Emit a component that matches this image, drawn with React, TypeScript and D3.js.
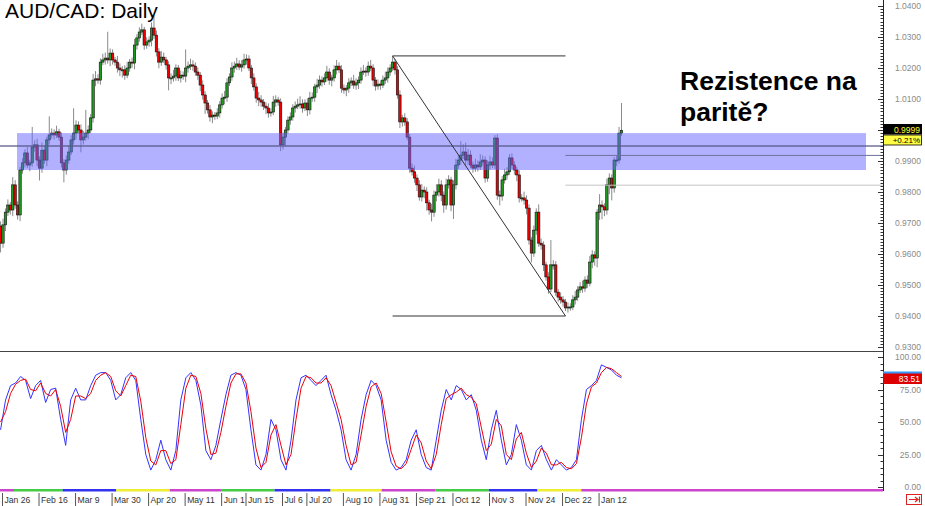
import React from 'react';
import * as d3 from 'd3';

// AUD/CAD daily candles (open = previous close)
const firstOpen = 0.969;
const closes = [
  0.9635, 0.9694, 0.9735, 0.9758, 0.9742, 0.9823, 0.9758, 0.9726, 0.9871, 0.9894,
  0.9926, 0.9887, 0.9894, 0.9945, 0.9952, 0.9903, 0.9877, 0.9935, 0.9903, 0.9968,
  0.9984, 0.999, 0.9984, 0.9994, 0.9977, 0.9894, 0.9871, 0.9903, 0.9929, 0.9968,
  0.999, 1.0016, 1.0, 0.9968, 0.9977, 0.999, 1.0, 1.0039, 1.0161, 1.0165,
  1.0161, 1.0219, 1.0226, 1.0232, 1.0226, 1.0248, 1.0226, 1.0219, 1.02, 1.0194,
  1.0194, 1.0177, 1.02, 1.0219, 1.0216, 1.0274, 1.0297, 1.0316, 1.0323, 1.0274,
  1.0284, 1.029, 1.0329, 1.0306, 1.0252, 1.0219, 1.0235, 1.0226, 1.021, 1.0168,
  1.0168, 1.0174, 1.02, 1.0168, 1.0177, 1.0174, 1.02, 1.0206, 1.021, 1.0206,
  1.0187, 1.0177, 1.0145, 1.0113, 1.0087, 1.0065, 1.0042, 1.0048, 1.0045, 1.0055,
  1.0081, 1.0103, 1.0106, 1.0152, 1.0171, 1.02, 1.0206, 1.0213, 1.0203, 1.021,
  1.0226, 1.0229, 1.02, 1.0168, 1.0139, 1.0103, 1.0097, 1.009, 1.0077, 1.0071,
  1.0055, 1.0058, 1.009, 1.0097, 1.009, 0.9952, 0.9977, 1.0, 1.0032, 1.0042,
  1.0071, 1.0077, 1.0081, 1.0084, 1.0071, 1.0087, 1.0065, 1.0103, 1.0106, 1.0139,
  1.0145, 1.0161, 1.0155, 1.0168, 1.0187, 1.0161, 1.0168, 1.0194, 1.0206, 1.0194,
  1.0135, 1.0129, 1.0135, 1.0152, 1.0158, 1.0145, 1.0152, 1.0161, 1.0187, 1.019,
  1.0187, 1.0206, 1.02, 1.0161, 1.0142, 1.0148, 1.0145, 1.0161, 1.0168, 1.0187,
  1.02, 1.0219, 1.0194, 1.0113, 1.0026, 1.0039, 1.0026, 0.9977, 0.9877, 0.9865,
  0.9845, 0.9823, 0.9784, 0.9806, 0.98, 0.9765, 0.9742, 0.9735, 0.979, 0.98,
  0.9823, 0.979, 0.9758, 0.9823, 0.9839, 0.9758, 0.9823, 0.9887, 0.9903, 0.9919,
  0.9929, 0.9903, 0.9919, 0.9887, 0.9877, 0.9887, 0.9881, 0.9897, 0.9903, 0.9845,
  0.9887, 0.9897, 0.9887, 0.9974, 0.979, 0.9787, 0.9839, 0.9855, 0.9865, 0.991,
  0.9887, 0.9871, 0.9855, 0.9781, 0.9781, 0.9774, 0.9748, 0.9645, 0.9603, 0.9677,
  0.9735, 0.9635, 0.9629, 0.9565, 0.9526, 0.9487, 0.9565, 0.9565, 0.9477, 0.9461,
  0.9452, 0.9445, 0.9426, 0.9429, 0.9429, 0.9452, 0.9461, 0.9484, 0.9494, 0.949,
  0.9516, 0.9506, 0.9574, 0.9597, 0.9587, 0.9735, 0.9758, 0.9752, 0.9742, 0.9823,
  0.9845, 0.9813, 0.9903, 0.9903, 0.999, 0.9999,
];
// wick lengths in pips above/below the body
const upperWick = [
  15, 20, 12, 18, 10, 25, 15, 12, 10, 15, 12, 20, 10, 65, 15, 20, 12, 25, 15, 10,
  60, 15, 12, 20, 10, 15, 12, 15, 20, 15, 80, 15, 12, 18, 20, 75, 15, 12, 20, 25,
  15, 12, 20, 18, 85, 15, 12, 10, 20, 15, 12, 15, 20, 10, 15, 20, 12, 15, 20, 10,
  15, 12, 18, 40, 15, 12, 20, 15, 10, 12, 15, 20, 12, 10, 15, 12, 60, 15, 20, 15,
  12, 15, 10, 15, 12, 10, 15, 12, 10, 15, 12, 15, 20, 15, 12, 18, 15, 20, 12, 15,
  20, 15, 12, 10, 15, 12, 20, 15, 10, 12, 15, 12, 20, 15, 10, 12, 15, 10, 12, 15,
  12, 15, 20, 25, 15, 12, 15, 20, 15, 10, 20, 15, 12, 15, 20, 12, 10, 15, 20, 12,
  15, 12, 10, 15, 12, 20, 15, 12, 15, 20, 12, 15, 20, 12, 10, 15, 12, 15, 20, 15,
  12, 20, 10, 12, 15, 10, 15, 12, 10, 15, 20, 12, 15, 20, 12, 15, 10, 20, 15, 25,
  20, 15, 12, 20, 15, 10, 15, 20, 15, 45, 25, 30, 20, 15, 12, 20, 15, 25, 15, 12,
  15, 20, 15, 10, 12, 15, 12, 20, 15, 12, 15, 12, 10, 15, 12, 20, 15, 12, 10, 15,
  12, 25, 15, 12, 10, 15, 80, 15, 12, 10, 15, 12, 10, 15, 12, 15, 20, 12, 15, 20,
  12, 15, 20, 15, 12, 10, 35, 15, 12, 20, 15, 12, 10, 15, 20, 88,
];
const lowerWick = [
  30, 15, 20, 12, 15, 20, 12, 15, 20, 12, 15, 10, 20, 12, 15, 20, 40, 15, 12, 20,
  15, 12, 15, 10, 12, 15, 40, 15, 12, 10, 15, 20, 12, 40, 15, 12, 20, 10, 15, 20,
  12, 15, 10, 15, 12, 20, 15, 12, 15, 20, 25, 15, 10, 12, 15, 20, 15, 12, 10, 15,
  12, 15, 20, 12, 15, 20, 12, 10, 15, 40, 20, 12, 15, 10, 15, 12, 20, 15, 12, 15,
  12, 15, 20, 15, 35, 12, 15, 20, 12, 10, 15, 12, 20, 15, 10, 12, 15, 12, 10, 15,
  12, 15, 10, 20, 12, 15, 20, 15, 12, 20, 15, 12, 10, 15, 12, 20, 15, 30, 12, 15,
  12, 15, 10, 12, 15, 10, 20, 15, 12, 15, 20, 12, 15, 10, 12, 15, 20, 12, 15, 10,
  15, 12, 20, 15, 10, 12, 15, 20, 12, 10, 15, 12, 10, 20, 15, 12, 15, 10, 12, 15,
  12, 10, 15, 12, 20, 15, 12, 10, 15, 12, 15, 20, 12, 15, 20, 25, 15, 30, 15, 20,
  15, 20, 25, 15, 12, 20, 45, 15, 12, 15, 12, 20, 15, 10, 15, 12, 15, 10, 12, 15,
  12, 15, 10, 12, 15, 30, 15, 12, 15, 10, 12, 15, 20, 15, 12, 15, 20, 15, 30, 12,
  15, 12, 15, 20, 12, 15, 10, 15, 12, 15, 12, 15, 10, 15, 12, 10, 15, 12, 10, 15,
  12, 15, 10, 20, 25, 30, 25, 40, 20, 15, 30, 40, 15, 20, 12, 10,
];

// slow stochastic, sampled along the panel
const stochK = [
  44, 67, 78, 80, 85, 82, 68, 78, 82, 65, 75, 76, 52, 32, 67, 76, 67, 67, 78, 86,
  88, 88, 82, 67, 71, 84, 88, 82, 52, 25, 13, 21, 36, 21, 13, 28, 67, 84, 88, 82,
  63, 28, 21, 32, 52, 71, 86, 88, 86, 75, 44, 17, 13, 25, 52, 44, 21, 13, 36, 67,
  84, 86, 82, 78, 82, 86, 71, 59, 44, 21, 13, 25, 52, 71, 82, 78, 67, 36, 19, 13,
  15, 21, 36, 44, 25, 15, 13, 36, 59, 75, 67, 78, 75, 67, 71, 59, 36, 21, 44, 59,
  36, 17, 25, 48, 36, 17, 13, 28, 32, 21, 13, 21, 17, 13, 15, 21, 52, 75, 78, 82,
  94, 92, 90, 86, 84,
];
const stochD = [
  50, 58, 72, 79, 82, 83, 75, 74, 80, 72, 70, 75, 62, 42, 52, 70, 70, 68, 72, 82,
  86, 88, 85, 74, 70, 78, 86, 85, 66, 38, 20, 17, 28, 28, 18, 21, 48, 76, 86, 85,
  72, 45, 25, 26, 42, 62, 80, 87, 87, 80, 58, 30, 15, 19, 40, 48, 32, 17, 25, 52,
  76, 85, 84, 80, 80, 84, 78, 65, 52, 32, 17, 19, 40, 62, 77, 80, 72, 50, 27, 16,
  14, 18, 29, 40, 34, 20, 14, 25, 48, 68, 71, 73, 76, 71, 69, 64, 46, 28, 33, 52,
  47, 25, 21, 37, 42, 26, 15, 20, 30, 26, 17, 17, 19, 15, 14, 18, 38, 64, 77, 80,
  88, 92, 91, 88, 85,
];

const priceTicks = [1.04, 1.03, 1.02, 1.01, 0.99, 0.98, 0.97, 0.96, 0.95, 0.94, 0.93];
const stochTicks = [100, 75, 50, 25, 0];
const dateLabels = ['Jan 26', 'Feb 16', 'Mar 9', 'Mar 30', 'Apr 20', 'May 11', 'Jun 1', 'Jun 15', 'Jul 6',
  'Jul 20', 'Aug 10', 'Aug 31', 'Sep 21', 'Oct 12', 'Nov 3', 'Nov 24', 'Dec 22', 'Jan 12'];
const dateLabelBars = [1, 16, 31, 46, 61, 76, 91, 101, 116, 126, 141, 156, 171, 186, 201, 216, 231, 246];
const monthStartBars = [0, 6, 26, 48, 70, 91, 113, 136, 157, 179, 201, 221, 239];
const monthColors = ['#cc44cc', '#44cc44', '#3333ee', '#eeee33'];

const zone = { top: 0.999, bottom: 0.9871, mid: 0.9948 };
const swing = { fromBar: 161, toBar: 232, high: 1.0239, low: 0.94 };
const fibLevels = [0.9918, 0.9822];
const lastPrice = '0.9999';
const lastChange = '+0.21%';
const lastStoch = '83.51';

const AXIS_X = 883;
const FONT = 'Arial, "Liberation Sans", sans-serif';

export default function App() {
  const x = d3.scaleLinear().domain([0, 255]).range([0.57, 0.57 + 255 * 2.435]);
  const y = d3.scaleLinear().domain([0.93, 1.04]).range([347, 6]);
  const ys = d3.scaleLinear().domain([0, 100]).range([487, 357]);
  const xs = d3.scaleLinear().domain([0, stochK.length - 1]).range([x(0), x(255)]);

  const candles = closes.map((c, i) => {
    const o = i === 0 ? firstOpen : closes[i - 1];
    return { i, o, c, h: Math.max(o, c) + upperWick[i] / 10000, l: Math.min(o, c) - lowerWick[i] / 10000 };
  });

  const stochLine = d3.line<number>().x((_, j) => xs(j)).y(v => ys(v));

  const minorPrice = d3.range(930, 1041).map(v => v / 1000);
  const minorStoch = d3.range(0, 101, 5);

  return (
    <svg width={925} height={506} style={{ position: 'absolute', left: 0, top: 0, background: '#fff' }}
      fontFamily={FONT}>
      <rect width={925} height={506} fill="#fff" />

      {/* wicks + bodies */}
      {candles.map(d => (
        <line key={'w' + d.i} x1={x(d.i)} x2={x(d.i)} y1={y(d.h)} y2={y(d.l)} stroke="#8a8a8a" strokeWidth={1} />
      ))}
      {candles.map(d => {
        const top = y(Math.max(d.o, d.c));
        const h = Math.max(1, y(Math.min(d.o, d.c)) - top);
        return (
          <rect key={'b' + d.i} x={x(d.i) - 1.2} y={top} width={2.4} height={h}
            fill={d.c >= d.o ? '#1f9a1f' : '#ee0000'} stroke="#111" strokeWidth={0.6} />
        );
      })}

      {/* resistance zone */}
      <rect x={17} y={y(zone.top)} width={849} height={y(zone.bottom) - y(zone.top)} fill="#6464ff" opacity={0.5} />
      <line x1={0} x2={AXIS_X} y1={y(zone.mid)} y2={y(zone.mid)} stroke="#5a5a8a" strokeWidth={1.5} opacity={0.85} />

      {/* swing lines */}
      <g stroke="#333" strokeWidth={1}>
        <line x1={x(swing.fromBar)} x2={x(swing.toBar)} y1={y(swing.high)} y2={y(swing.high)} />
        <line x1={x(swing.fromBar)} x2={x(swing.toBar)} y1={y(swing.low)} y2={y(swing.low)} />
        <line x1={x(swing.fromBar)} x2={x(swing.toBar)} y1={y(swing.high)} y2={y(swing.low)} />
      </g>
      <line x1={x(swing.toBar)} x2={AXIS_X} y1={y(fibLevels[0])} y2={y(fibLevels[0])} stroke="#7070a0" strokeWidth={1} />
      <line x1={x(swing.toBar)} x2={AXIS_X} y1={y(fibLevels[1])} y2={y(fibLevels[1])} stroke="#c4c4c4" strokeWidth={1} />

      {/* panel separator */}
      <line x1={0} x2={AXIS_X} y1={351.5} y2={351.5} stroke="#444" strokeWidth={1} />

      {/* stochastic */}
      <path d={stochLine(stochK) || ''} fill="none" stroke="#3333ff" strokeWidth={1} />
      <path d={stochLine(stochD) || ''} fill="none" stroke="#ee0000" strokeWidth={1} />

      {/* bottom month strip */}
      {monthStartBars.map((b, k) => {
        const x0 = k === 0 ? 0 : x(b) - 1.2;
        const x1 = k === monthStartBars.length - 1 ? AXIS_X : x(monthStartBars[k + 1]) - 1.2;
        return <rect key={'m' + k} x={x0} y={489} width={x1 - x0} height={2.5} fill={monthColors[k % 4]} />;
      })}
      {dateLabels.map((t, k) => {
        const px = x(dateLabelBars[k]) - 0.5;
        return (
          <g key={'d' + k}>
            <line x1={px} x2={px} y1={493} y2={506} stroke="#555" strokeWidth={1} />
            <text x={px + 2} y={503} fontSize={8.6} fill="#333">{t}</text>
          </g>
        );
      })}

      {/* right axis */}
      <line x1={AXIS_X + 0.5} x2={AXIS_X + 0.5} y1={0} y2={491} stroke="#222" strokeWidth={1} />
      {minorPrice.map(v => (
        <line key={'mp' + v} x1={AXIS_X - (Math.round(v * 1000) % 10 === 0 ? 5 : 2.5)} x2={AXIS_X} y1={Math.round(y(v)) + 0.5}
          y2={Math.round(y(v)) + 0.5} stroke="#333" strokeWidth={1} />
      ))}
      {minorStoch.map(v => (
        <line key={'ms' + v} x1={AXIS_X - (v % 25 === 0 ? 5 : 2.5)} x2={AXIS_X} y1={Math.round(ys(v)) + 0.5}
          y2={Math.round(ys(v)) + 0.5} stroke="#333" strokeWidth={1} />
      ))}
      {priceTicks.map(v => (
        <text key={'pt' + v} x={921} y={y(v) + 3} fontSize={8.5} fill="#8a8a8a" textAnchor="end">{v.toFixed(4)}</text>
      ))}
      {stochTicks.map(v => (
        <text key={'st' + v} x={921} y={ys(v) + 3} fontSize={8.5} fill="#8a8a8a" textAnchor="end">{v.toFixed(2)}</text>
      ))}

      {/* last value tags */}
      <rect x={AXIS_X} y={124} width={39} height={10.5} fill="#000" />
      <text x={920} y={132.5} fontSize={8.5} fill="#ffff33" textAnchor="end">{lastPrice}</text>
      <rect x={AXIS_X + 0.5} y={135} width={38} height={10} fill="#ffff44" stroke="#000" strokeWidth={0.8} />
      <text x={920} y={143} fontSize={8} fill="#000" textAnchor="end">{lastChange}</text>
      <rect x={AXIS_X} y={371.5} width={39} height={11} fill="#3399ff" />
      <rect x={AXIS_X} y={373.5} width={39} height={10.5} fill="#dd0000" />
      <text x={920} y={382} fontSize={8.5} fill="#fff" textAnchor="end">{lastStoch}</text>

      {/* scroll icon */}
      <rect x={906.5} y={494.5} width={15} height={10} fill="#fff" stroke="#dd2222" strokeWidth={1} />
      <path d="M909,499.5 H918 M915,497 L918,499.5 L915,502 M919.5,496.5 V502.5" stroke="#dd2222" strokeWidth={1.2} fill="none" />

      {/* titles */}
      <text x={5} y={18} fontSize={21} fill="#000">AUD/CAD: Daily</text>
      <text x={680} y={90} fontSize={26.5} fontWeight="bold" fill="#000">Rezistence na</text>
      <text x={680} y={121} fontSize={26.5} fontWeight="bold" fill="#000">paritě?</text>
    </svg>
  );
}
